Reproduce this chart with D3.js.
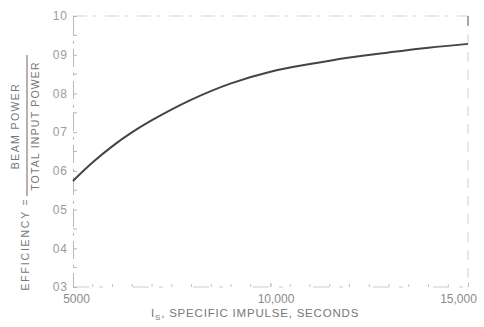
<!DOCTYPE html>
<html><head><meta charset="utf-8">
<script src="https://cdn.jsdelivr.net/npm/d3@7"></script>
<style>
html,body{margin:0;padding:0;background:#fff;}
svg{display:block;}
text{font-family:"Liberation Sans",Arial,sans-serif;}
</style></head>
<body><svg id="c" width="484" height="327"></svg>
<script>
const impulse = [5000, 5500, 6000, 6500, 7000, 8000, 9000, 10000, 11000, 12000, 13000, 14000, 15000];
const efficiency = [0.574, 0.622, 0.664, 0.700, 0.731, 0.784, 0.826, 0.856, 0.876, 0.893, 0.906, 0.918, 0.928];
const yTicks = [0.3, 0.4, 0.5, 0.6, 0.7, 0.8, 0.9, 1.0];
const yTickLabels = ["03", "04", "05", "06", "07", "08", "09", "10"];
const xTicks = [5000, 10000, 15000];
const xTickLabels = ["5000", "10,000", "15,000"];

const W = 484, H = 327;
const m = {l: 73, r: 16, t: 16, b: 40};
const svg = d3.select("#c");
const x = d3.scaleLinear().domain([5000, 15000]).range([m.l, W - m.r]);
const y = d3.scaleLinear().domain([0.3, 1.0]).range([H - m.b, m.t]);
const faint = "#b8b8b8";

// frame (faint scanned look)
svg.append("line").attr("x1", x(5000)).attr("x2", x(15000)).attr("y1", y(1.0)).attr("y2", y(1.0))
  .attr("stroke", "#cfcfcf").attr("stroke-width", 1).attr("stroke-dasharray", "14,6,3,9");
svg.append("line").attr("x1", x(15000)).attr("x2", x(15000)).attr("y1", y(1.0)).attr("y2", y(0.3))
  .attr("stroke", "#d0d0d0").attr("stroke-width", 1).attr("stroke-dasharray", "10,8");
svg.append("line").attr("x1", x(15000)).attr("x2", x(15000)).attr("y1", y(1.0)).attr("y2", y(0.975))
  .attr("stroke", "#777").attr("stroke-width", 1.2);
svg.append("line").attr("x1", x(5000)).attr("x2", x(15000)).attr("y1", y(0.3)).attr("y2", y(0.3))
  .attr("stroke", "#cccccc").attr("stroke-width", 1).attr("stroke-dasharray", "16,10,4,30");

// y axis
const ya = d3.axisLeft(y).tickValues(yTicks).tickFormat((d, i) => yTickLabels[i]).tickSize(-4).tickPadding(5);
const gy = svg.append("g").attr("transform", `translate(${m.l},0)`).call(ya);
gy.select(".domain").attr("stroke", faint).attr("stroke-dasharray", "18,5,3,6");
gy.selectAll(".tick line").attr("stroke", faint);
gy.selectAll(".tick text").attr("fill", "#9a9a9a").style("font-size", "12px").attr("letter-spacing", "1");
// minor ticks
const minor = d3.range(0.35, 1.0, 0.1);
svg.append("g").selectAll("line").data(minor).join("line")
  .attr("x1", m.l).attr("x2", m.l + 4).attr("y1", d => y(d)).attr("y2", d => y(d))
  .attr("stroke", faint);

// x axis
const xa = d3.axisBottom(x).tickValues(xTicks).tickFormat((d, i) => xTickLabels[i]).tickSize(-4).tickPadding(7);
const gx = svg.append("g").attr("transform", `translate(0,${H - m.b})`).call(xa);
gx.select(".domain").remove();
gx.selectAll(".tick line").attr("stroke", faint);
gx.selectAll(".tick text").attr("fill", "#8a8a8a").style("font-size", "12px")
  .attr("dx", (d, i) => [3, 5, -10][i]);
const xMinor = d3.range(5500, 15000, 500);
svg.append("g").selectAll("line").data(xMinor).join("line")
  .attr("x1", d => x(d)).attr("x2", d => x(d)).attr("y1", H - m.b).attr("y2", H - m.b - 3)
  .attr("stroke", "#c4c4c4");

// curve
const line = d3.line().x((d, i) => x(impulse[i])).y(d => y(d)).curve(d3.curveCatmullRom);
svg.append("path").datum(efficiency).attr("d", line)
  .attr("fill", "none").attr("stroke", "#444").attr("stroke-width", 2);

// x label
const xl = svg.append("text").attr("x", 151).attr("y", 317).attr("fill", "#777")
  .style("font-size", "11.5px").attr("letter-spacing", "0.8");
xl.append("tspan").text("I");
xl.append("tspan").attr("dy", 3).style("font-size", "8px").text("S");
xl.append("tspan").attr("dy", -3).text(", SPECIFIC  IMPULSE, SECONDS");

// y label
const yl = svg.append("g").attr("fill", "#777").style("font-size", "10.5px");
yl.append("text").attr("transform", "translate(29,244) rotate(-90)").attr("text-anchor", "middle")
  .attr("letter-spacing", "1.8").text("EFFICIENCY =");
yl.append("text").attr("transform", "translate(19,126) rotate(-90)").attr("text-anchor", "middle")
  .attr("letter-spacing", "1.4").text("BEAM POWER");
yl.append("line").attr("x1", 27).attr("x2", 27).attr("y1", 55).attr("y2", 196).attr("stroke", "#666").attr("stroke-width", 1);
yl.append("text").attr("transform", "translate(39,126) rotate(-90)").attr("text-anchor", "middle")
  .attr("letter-spacing", "1.2").text("TOTAL INPUT POWER");
</script></body></html>
